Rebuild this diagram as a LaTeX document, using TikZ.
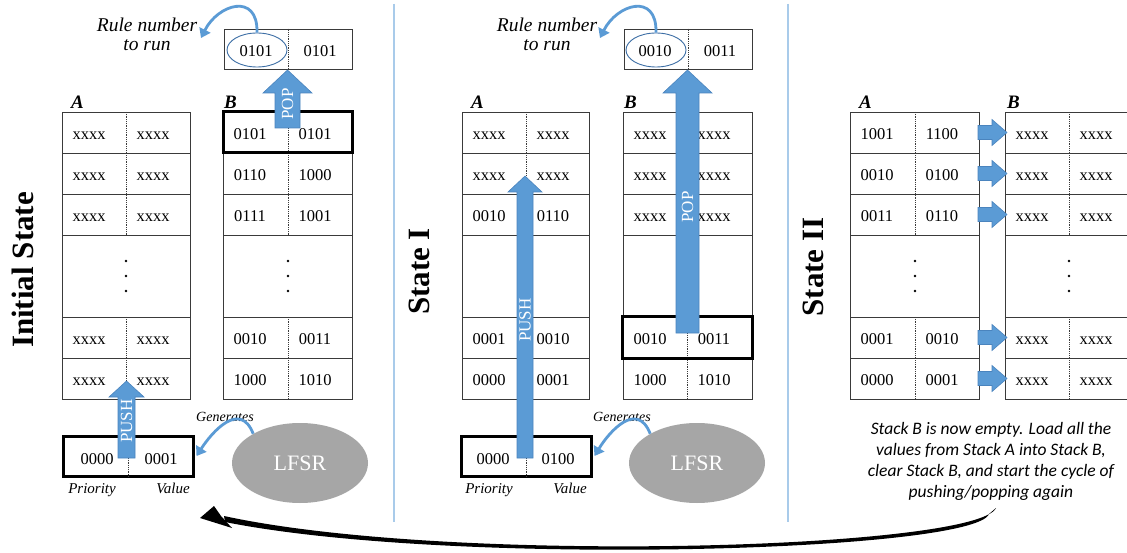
\documentclass[tikz,border=0pt]{standalone}
\usepackage{fontspec}
\setmainfont{Liberation Serif}
\newfontfamily\calfont{Carlito}
\usetikzlibrary{shapes.geometric,arrows.meta}
\definecolor{myblue}{HTML}{5B9BD5}
\definecolor{myblueedge}{HTML}{4A84BE}
\definecolor{sepblue}{HTML}{A9CBEA}
\definecolor{lfsrgray}{HTML}{A6A6A6}
\definecolor{ovalblue}{HTML}{3C6EA5}
\definecolor{cellline}{HTML}{3A3A3A}
% stack frame: x0, divider x, x1
\newcommand\stackbox[3]{%
  \foreach \ya/\yb in {112/153,153/194,194/235,235/317,317/358,358/399}{\draw[cell] (#1,\ya) rectangle (#3,\yb);}
  \draw[divider] (#2,112) -- (#2,235);
  \draw[divider] (#2,317) -- (#2,399);
}
\newcommand\stackdots[1]{\foreach \yy in {261,276,291}{\fill (#1,\yy) circle (1.4pt);}}
% name, x0, divider, baseline, left, right
\newcommand\pair[6]{%
  \node[celltext] (#1-l) at ({#2+27},#4) {#5};
  \node[celltext] (#1-r) at ({#3+27},#4) {#6};
}
% vertical block arrow: xc, ybottom, yheadbase, ytip, shaft half, head half
\newcommand\blkup[6]{%
  \filldraw[blockarrow] ({#1-#5},#2) -- ({#1-#5},#3) -- ({#1-#6},#3) -- (#1,#4) -- ({#1+#6},#3) -- ({#1+#5},#3) -- ({#1+#5},#2) -- cycle;
}
% right block arrow at row centre y
\newcommand\blkright[1]{%
  \filldraw[blockarrow] (978,{#1-7}) -- (992,{#1-7}) -- (992,{#1-13}) -- (1007,#1) -- (992,{#1+13}) -- (992,{#1+7}) -- (978,{#1+7}) -- cycle;
}
\begin{document}
\begin{tikzpicture}[x=1pt,y=-1pt,
  cell/.style={draw=cellline,line width=0.9pt},
  thickbox/.style={draw=black,line width=3pt},
  divider/.style={draw=cellline,line width=0.8pt,dash pattern=on 0.9pt off 0.9pt},
  celltext/.style={font=\fontsize{16.5}{18}\selectfont,inner sep=0pt,anchor=base},
  blockarrow/.style={fill=myblue,draw=myblueedge,line width=0.6pt},
  arrtext/.style={font=\fontsize{17}{18}\selectfont,text=white,rotate=90,inner sep=0pt},
  curvearrow/.style={draw=myblue,line width=2.8pt,-{Triangle[length=9pt,width=12pt]}},
  oval/.style={draw=ovalblue,ellipse,line width=0.9pt,minimum width=60pt,minimum height=34pt,inner sep=0pt},
  lfsr/.style={ellipse,fill=lfsrgray,minimum width=136pt,minimum height=80pt,inner sep=0pt,text=white,font=\fontsize{22}{24}\selectfont},
  pushbox/.style={thickbox,minimum width=130pt,minimum height=40pt,inner sep=0pt},
  topbox/.style={cell,minimum width=128pt,minimum height=40pt,inner sep=0pt},
  stacklabel/.style={font=\bfseries\itshape\fontsize{19}{20}\selectfont,inner sep=0pt,anchor=base west},
  statelabel/.style={font=\bfseries\fontsize{31}{32}\selectfont,rotate=90,inner sep=0pt},
  ruletext/.style={font=\itshape\fontsize{19.5}{19}\selectfont,align=center,inner sep=0pt},
  smallital/.style={font=\itshape\fontsize{15}{16}\selectfont,inner sep=0pt,anchor=base},
  gentext/.style={font=\itshape\fontsize{14}{15}\selectfont,inner sep=0pt,anchor=base},
  paratext/.style={font=\calfont\itshape\fontsize{17.5}{21}\selectfont,align=center,inner sep=0pt,anchor=north},
  sep/.style={draw=sepblue,line width=1.5pt}
]
\useasboundingbox (0,0) rectangle (1127,553);
\clip (0,0) rectangle (1127,553);
\fill[white] (0,0) rectangle (1127,553);

% separators
\draw[sep] (394,4) -- (394,522);
\draw[sep] (788,4) -- (788,522);

% state labels
\node[statelabel] (lab-init) at (22.5,270) {Initial State};
\node[statelabel] (lab-s1) at (419.5,271.5) {State I};
\node[statelabel] (lab-s2) at (813,267) {State II};

% ================= Initial state =================
\node[stacklabel] (i-A) at (71,109) {A};
\node[stacklabel] (i-B) at (224,109) {B};
\stackbox{62}{126}{190}
\stackbox{223}{288}{352}
\stackdots{126}
\stackdots{288}
\pair{ia1}{62}{126}{139.5}{xxxx}{xxxx}
\pair{ia2}{62}{126}{180.5}{xxxx}{xxxx}
\pair{ia3}{62}{126}{221.5}{xxxx}{xxxx}
\pair{ia5}{62}{126}{344.5}{xxxx}{xxxx}
\pair{ia6}{62}{126}{385.5}{xxxx}{xxxx}
\pair{ib1}{223}{288}{139.5}{0101}{0101}
\pair{ib2}{223}{288}{180.5}{0110}{1000}
\pair{ib3}{223}{288}{221.5}{0111}{1001}
\pair{ib5}{223}{288}{344.5}{0010}{0011}
\pair{ib6}{223}{288}{385.5}{1000}{1010}
\draw[thickbox] (223,112) rectangle (352,153);

% top (popped) box
\node[topbox] (i-top) at (288,49) {};
\draw[divider] (i-top.north) -- (i-top.south);
\node[celltext] (i-top-l) at (256,57) {0101};
\node[celltext] (i-top-r) at (320,57) {0101};
\node[oval] (i-oval) at (257,50) {};
\node[ruletext] (i-rule) at (147,34) {Rule number\\to run};
\coordinate (i-ruleend) at (201,38);
\draw[curvearrow] (i-oval.north) .. controls (258,-8) and (218,4) .. (i-ruleend);

% push box
\node[pushbox] (i-push) at (128,456) {};
\draw[divider] (i-push.north) -- (i-push.south);
\node[celltext] (i-push-l) at (97,464) {0000};
\node[celltext] (i-push-r) at (161,464) {0001};
\node[smallital] (i-prio) at (92,493) {Priority};
\node[smallital] (i-val) at (173,493) {Value};

% arrows
\blkup{287.5}{128}{93}{70}{12.5}{24.5}
\node[arrtext] (i-pop) at (287.5,104) {POP};
\blkup{126.5}{458}{397}{381}{8.5}{17.5}
\node[arrtext] (i-pushlab) at (126.5,421) {PUSH};

% LFSR
\node[lfsr] (i-lfsr) at (300,463) {LFSR};
\node[gentext] (i-gen) at (225,421.5) {Generates};
\draw[curvearrow] (i-lfsr.148) .. controls (240,400) and (212,432) .. ([xshift=2pt]i-push.east);

% ================= State I =================
\node[stacklabel] (s1-A) at (471,109) {A};
\node[stacklabel] (s1-B) at (624,109) {B};
\stackbox{462}{526}{589}
\stackbox{623}{687}{752}
\pair{s1a1}{462}{526}{139.5}{xxxx}{xxxx}
\pair{s1a2}{462}{526}{180.5}{xxxx}{xxxx}
\pair{s1a3}{462}{526}{221.5}{0010}{0110}
\pair{s1a5}{462}{526}{344.5}{0001}{0010}
\pair{s1a6}{462}{526}{385.5}{0000}{0001}
\pair{s1b1}{623}{687}{139.5}{xxxx}{xxxx}
\pair{s1b2}{623}{687}{180.5}{xxxx}{xxxx}
\pair{s1b3}{623}{687}{221.5}{xxxx}{xxxx}
\pair{s1b5}{623}{687}{344.5}{0010}{0011}
\pair{s1b6}{623}{687}{385.5}{1000}{1010}
\draw[thickbox] (622,317) rectangle (752,358);

\node[topbox] (s1-top) at (688,49) {};
\draw[divider] (s1-top.north) -- (s1-top.south);
\node[celltext] (s1-top-l) at (655,57) {0010};
\node[celltext] (s1-top-r) at (720,57) {0011};
\node[oval] (s1-oval) at (656,50) {};
\node[ruletext] (s1-rule) at (547,34) {Rule number\\to run};
\coordinate (s1-ruleend) at (600,38);
\draw[curvearrow] (s1-oval.north) .. controls (657,-8) and (617,4) .. (s1-ruleend);

\node[pushbox] (s1-push) at (526,456) {};
\draw[divider] (s1-push.north) -- (s1-push.south);
\node[celltext] (s1-push-l) at (493,464) {0000};
\node[celltext] (s1-push-r) at (558,464) {0100};
\node[smallital] (s1-prio) at (489,493) {Priority};
\node[smallital] (s1-val) at (570,493) {Value};

\blkup{525}{458}{192}{176}{8}{17}
\node[arrtext] (s1-pushlab) at (525,320) {PUSH};
\blkup{687.5}{333}{93}{70}{11.5}{24.5}
\node[arrtext] (s1-pop) at (687.5,207) {POP};

\node[lfsr] (s1-lfsr) at (697,463) {LFSR};
\node[gentext] (s1-gen) at (622,421.5) {Generates};
\draw[curvearrow] (s1-lfsr.148) .. controls (637,400) and (609,432) .. ([xshift=2pt]s1-push.east);

% ================= State II =================
\node[stacklabel] (s2-A) at (859,109) {A};
\node[stacklabel] (s2-B) at (1007,109) {B};
\stackbox{850}{915}{979}
\stackbox{1005}{1069}{1134}
\stackdots{915}
\stackdots{1069}
\pair{s2a1}{850}{915}{139.5}{1001}{1100}
\pair{s2a2}{850}{915}{180.5}{0010}{0100}
\pair{s2a3}{850}{915}{221.5}{0011}{0110}
\pair{s2a5}{850}{915}{344.5}{0001}{0010}
\pair{s2a6}{850}{915}{385.5}{0000}{0001}
\pair{s2b1}{1005}{1069}{139.5}{xxxx}{xxxx}
\pair{s2b2}{1005}{1069}{180.5}{xxxx}{xxxx}
\pair{s2b3}{1005}{1069}{221.5}{xxxx}{xxxx}
\pair{s2b5}{1005}{1069}{344.5}{xxxx}{xxxx}
\pair{s2b6}{1005}{1069}{385.5}{xxxx}{xxxx}
\blkright{132.5}
\blkright{173.5}
\blkright{214.5}
\blkright{337.5}
\blkright{378.5}

\node[paratext] (note) at (991,422) {Stack B is now empty. Load all the\\values from Stack A into Stack B,\\clear Stack B, and start the cycle of\\pushing/popping again};

% loop-back arrow
\coordinate (loopstart) at (993,511);
\coordinate (loopend) at (200,518);
\fill[black] (996,508) .. controls (977,549) and (450,565) .. (224,516)
  -- (225,522) .. controls (450,567) and (974,552) .. (989,514) -- cycle;
\fill[black] (loopend) -- (214,506) -- (221,516) -- (232,528) -- cycle;
\end{tikzpicture}
\end{document}
